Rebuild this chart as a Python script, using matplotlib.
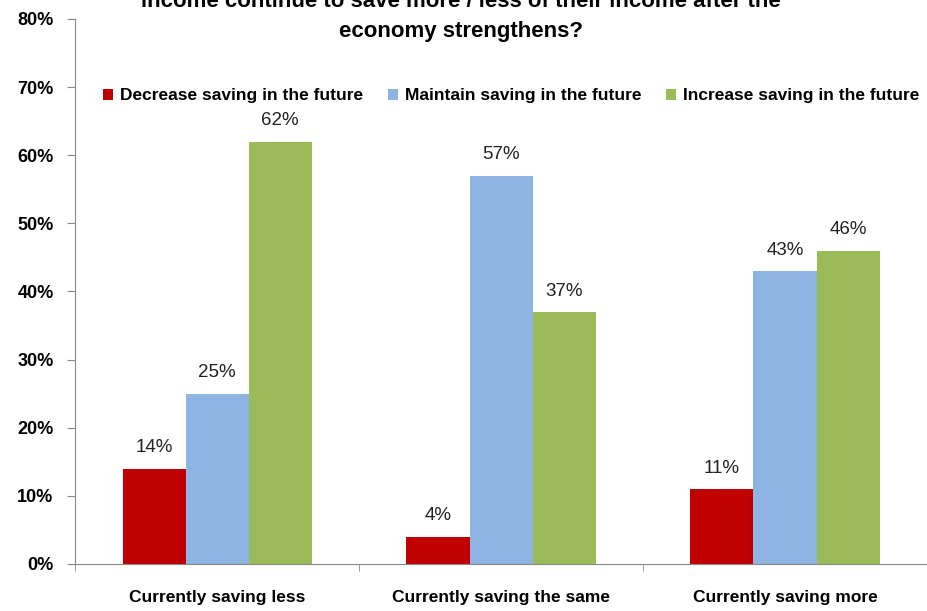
import matplotlib
matplotlib.use("Agg")
import matplotlib.pyplot as plt
import numpy as np
from matplotlib.ticker import PercentFormatter

plt.rcParams['font.family'] = ['Liberation Sans', 'DejaVu Sans']

categories = ["Currently saving less", "Currently saving the same", "Currently saving more"]
series_names = ["Decrease saving in the future", "Maintain saving in the future", "Increase saving in the future"]
decrease = [14, 4, 11]
maintain = [25, 57, 43]
increase = [62, 37, 46]
colors = ["#C00000", "#8EB4E3", "#9BBB59"]
y_ticks = [0, 10, 20, 30, 40, 50, 60, 70, 80]

fig = plt.figure(figsize=(9.27, 6.11), dpi=100)
ax = fig.add_axes([0.081, 0.077, 0.919, 0.892])

x = np.arange(len(categories))
width = 0.222
for i, (vals, name, c) in enumerate(zip([decrease, maintain, increase], series_names, colors)):
    pos = x + (i - 1) * width
    bars = ax.bar(pos, vals, width, color=c, label=name)
    for b, v in zip(bars, vals):
        ax.text(b.get_x() + b.get_width() / 2, v + 1.8, f"{v}%", ha="center", va="bottom",
                fontsize=13.5, color="#222222")

ax.set_xlim(-0.5, 2.5)
ax.set_ylim(0, 80)
ax.set_yticks(y_ticks)
ax.yaxis.set_major_formatter(PercentFormatter(decimals=0))
ax.set_xticks(x)
ax.set_xticklabels(categories, fontsize=12.5, fontweight="bold")
ax.set_xticks([-0.5, 0.5, 1.5, 2.5], minor=True)
ax.tick_params(axis="x", which="major", length=0, pad=19)
ax.tick_params(axis="x", which="minor", length=5, color="#888888")
ax.tick_params(axis="y", length=5.5, color="#888888", labelsize=13, pad=10)
for lab in ax.get_yticklabels():
    lab.set_fontweight("bold")

for s in ["top", "right"]:
    ax.spines[s].set_visible(False)
ax.spines["left"].set_color("#888888")
ax.spines["bottom"].set_color("#888888")

ax.legend(loc="center", bbox_to_anchor=(0.512, 0.859), ncol=3, frameon=False,
          prop={"weight": "bold", "size": 12.5}, handlelength=0.6, handleheight=0.6,
          handletextpad=0.4, columnspacing=1.4)

fig.text(0.497, 0.973, "income continue to save more / less of their income after the\neconomy strengthens?",
         ha="center", va="center", fontsize=16, fontweight="bold", linespacing=1.55)

fig.savefig("out.png", dpi=100)
